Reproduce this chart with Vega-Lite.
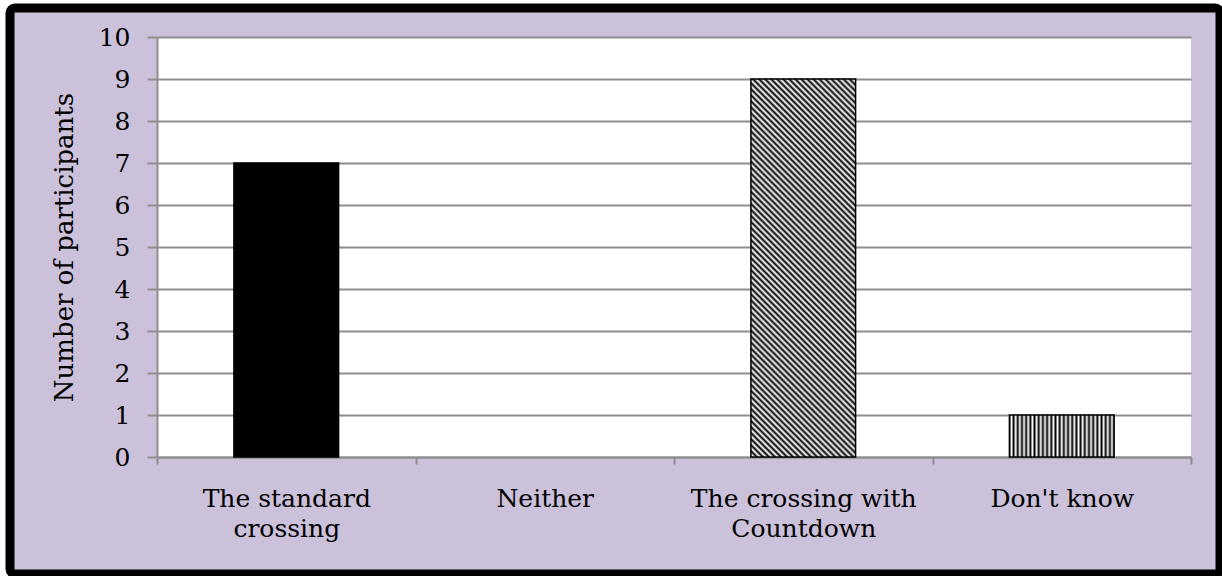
{
  "$schema": "https://vega.github.io/schema/vega-lite/v6.json",
  "width": 1210,
  "height": 566,
  "autosize": {"type": "none"},
  "padding": {"left": 10, "top": 8, "right": 2, "bottom": 2},
  "background": "white",
  "config": {
    "font": "DejaVu Serif",
    "view": {"fill": "#ccc1da", "stroke": "black", "strokeWidth": 9, "cornerRadius": 5}
  },
  "data": {"values": [
    {"response": "The standard crossing", "participants": 7},
    {"response": "Neither", "participants": 0},
    {"response": "The crossing with Countdown", "participants": 9},
    {"response": "Don't know", "participants": 1}
  ]},
  "resolve": {"axis": {"x": "independent"}},
  "encoding": {
    "y": {
      "field": "participants", "type": "quantitative", "title": "Number of participants",
      "scale": {"domain": [0, 10], "range": [449, 29], "nice": false, "zero": true},
      "axis": {
        "values": [0, 1, 2, 3, 4, 5, 6, 7, 8, 9, 10], "offset": -147,
        "grid": true, "gridColor": "#8e8e8e", "gridWidth": 2, "gridOpacity": 1,
        "domainColor": "#8e8e8e", "domainWidth": 2, "tickColor": "#8e8e8e", "tickWidth": 2, "tickSize": 10,
        "labelFontSize": 25, "labelColor": "black", "labelPadding": 17,
        "titleFontSize": 26, "titleFontWeight": "normal", "titleColor": "black", "titlePadding": 21
      }
    }
  },
  "layer": [
    {
      "mark": {"type": "bar", "opacity": 0},
      "encoding": {
        "x": {
          "field": "response", "type": "nominal", "sort": null, "title": null,
          "scale": {"domain": ["The standard crossing", "Neither", "The crossing with Countdown", "Don't know"], "range": [147, 1181], "paddingInner": 0, "paddingOuter": 0},
          "axis": {"orient": "top", "offset": 0, "grid": true, "gridColor": "white", "gridWidth": 259, "gridOpacity": 1, "bandPosition": 0.5, "domain": false, "ticks": false, "labels": false, "title": null}
        }
      }
    },
    {
      "transform": [{"filter": "datum.response == 'The standard crossing'"}],
      "mark": {"type": "bar", "width": {"band": 0.405}, "fill": "black", "stroke": "black", "strokeWidth": 1.5},
      "encoding": {
        "x": {
          "field": "response", "type": "nominal", "sort": null, "title": null,
          "scale": {"domain": ["The standard crossing", "Neither", "The crossing with Countdown", "Don't know"], "range": [147, 1181], "paddingInner": 0, "paddingOuter": 0},
          "axis": {
            "orient": "bottom", "offset": -117, "grid": false, "tickBand": "extent", "labelAngle": 0,
            "domainColor": "#8e8e8e", "domainWidth": 2, "tickColor": "#8e8e8e", "tickWidth": 2, "tickSize": 7,
            "labelFontSize": 25, "labelColor": "black", "labelPadding": 22, "labelLineHeight": 30, "labelLimit": 400, "labelBaseline": "top",
            "labelExpr": "datum.value == 'The standard crossing' ? ['The standard', 'crossing'] : datum.value == 'The crossing with Countdown' ? ['The crossing with', 'Countdown'] : datum.value"
          }
        }
      }
    },
    {
      "transform": [{"filter": "datum.response == 'The crossing with Countdown'"}],
      "mark": {
        "type": "bar", "width": {"band": 0.405}, "stroke": "black", "strokeWidth": 1.5,
        "fill": {"gradient": "linear", "x1": 0, "y1": 1, "x2": 0.3284, "y2": -0.1857, "stops": [
          {"offset": 0, "color": "#000"}, {"offset": 0.00625, "color": "#fff"}, {"offset": 0.0125, "color": "#000"}, {"offset": 0.01875, "color": "#fff"},
          {"offset": 0.025, "color": "#000"}, {"offset": 0.03125, "color": "#fff"}, {"offset": 0.0375, "color": "#000"}, {"offset": 0.04375, "color": "#fff"},
          {"offset": 0.05, "color": "#000"}, {"offset": 0.05625, "color": "#fff"}, {"offset": 0.0625, "color": "#000"}, {"offset": 0.06875, "color": "#fff"},
          {"offset": 0.075, "color": "#000"}, {"offset": 0.08125, "color": "#fff"}, {"offset": 0.0875, "color": "#000"}, {"offset": 0.09375, "color": "#fff"},
          {"offset": 0.1, "color": "#000"}, {"offset": 0.10625, "color": "#fff"}, {"offset": 0.1125, "color": "#000"}, {"offset": 0.11875, "color": "#fff"},
          {"offset": 0.125, "color": "#000"}, {"offset": 0.13125, "color": "#fff"}, {"offset": 0.1375, "color": "#000"}, {"offset": 0.14375, "color": "#fff"},
          {"offset": 0.15, "color": "#000"}, {"offset": 0.15625, "color": "#fff"}, {"offset": 0.1625, "color": "#000"}, {"offset": 0.16875, "color": "#fff"},
          {"offset": 0.175, "color": "#000"}, {"offset": 0.18125, "color": "#fff"}, {"offset": 0.1875, "color": "#000"}, {"offset": 0.19375, "color": "#fff"},
          {"offset": 0.2, "color": "#000"}, {"offset": 0.20625, "color": "#fff"}, {"offset": 0.2125, "color": "#000"}, {"offset": 0.21875, "color": "#fff"},
          {"offset": 0.225, "color": "#000"}, {"offset": 0.23125, "color": "#fff"}, {"offset": 0.2375, "color": "#000"}, {"offset": 0.24375, "color": "#fff"},
          {"offset": 0.25, "color": "#000"}, {"offset": 0.25625, "color": "#fff"}, {"offset": 0.2625, "color": "#000"}, {"offset": 0.26875, "color": "#fff"},
          {"offset": 0.275, "color": "#000"}, {"offset": 0.28125, "color": "#fff"}, {"offset": 0.2875, "color": "#000"}, {"offset": 0.29375, "color": "#fff"},
          {"offset": 0.3, "color": "#000"}, {"offset": 0.30625, "color": "#fff"}, {"offset": 0.3125, "color": "#000"}, {"offset": 0.31875, "color": "#fff"},
          {"offset": 0.325, "color": "#000"}, {"offset": 0.33125, "color": "#fff"}, {"offset": 0.3375, "color": "#000"}, {"offset": 0.34375, "color": "#fff"},
          {"offset": 0.35, "color": "#000"}, {"offset": 0.35625, "color": "#fff"}, {"offset": 0.3625, "color": "#000"}, {"offset": 0.36875, "color": "#fff"},
          {"offset": 0.375, "color": "#000"}, {"offset": 0.38125, "color": "#fff"}, {"offset": 0.3875, "color": "#000"}, {"offset": 0.39375, "color": "#fff"},
          {"offset": 0.4, "color": "#000"}, {"offset": 0.40625, "color": "#fff"}, {"offset": 0.4125, "color": "#000"}, {"offset": 0.41875, "color": "#fff"},
          {"offset": 0.425, "color": "#000"}, {"offset": 0.43125, "color": "#fff"}, {"offset": 0.4375, "color": "#000"}, {"offset": 0.44375, "color": "#fff"},
          {"offset": 0.45, "color": "#000"}, {"offset": 0.45625, "color": "#fff"}, {"offset": 0.4625, "color": "#000"}, {"offset": 0.46875, "color": "#fff"},
          {"offset": 0.475, "color": "#000"}, {"offset": 0.48125, "color": "#fff"}, {"offset": 0.4875, "color": "#000"}, {"offset": 0.49375, "color": "#fff"},
          {"offset": 0.5, "color": "#000"}, {"offset": 0.50625, "color": "#fff"}, {"offset": 0.5125, "color": "#000"}, {"offset": 0.51875, "color": "#fff"},
          {"offset": 0.525, "color": "#000"}, {"offset": 0.53125, "color": "#fff"}, {"offset": 0.5375, "color": "#000"}, {"offset": 0.54375, "color": "#fff"},
          {"offset": 0.55, "color": "#000"}, {"offset": 0.55625, "color": "#fff"}, {"offset": 0.5625, "color": "#000"}, {"offset": 0.56875, "color": "#fff"},
          {"offset": 0.575, "color": "#000"}, {"offset": 0.58125, "color": "#fff"}, {"offset": 0.5875, "color": "#000"}, {"offset": 0.59375, "color": "#fff"},
          {"offset": 0.6, "color": "#000"}, {"offset": 0.60625, "color": "#fff"}, {"offset": 0.6125, "color": "#000"}, {"offset": 0.61875, "color": "#fff"},
          {"offset": 0.625, "color": "#000"}, {"offset": 0.63125, "color": "#fff"}, {"offset": 0.6375, "color": "#000"}, {"offset": 0.64375, "color": "#fff"},
          {"offset": 0.65, "color": "#000"}, {"offset": 0.65625, "color": "#fff"}, {"offset": 0.6625, "color": "#000"}, {"offset": 0.66875, "color": "#fff"},
          {"offset": 0.675, "color": "#000"}, {"offset": 0.68125, "color": "#fff"}, {"offset": 0.6875, "color": "#000"}, {"offset": 0.69375, "color": "#fff"},
          {"offset": 0.7, "color": "#000"}, {"offset": 0.70625, "color": "#fff"}, {"offset": 0.7125, "color": "#000"}, {"offset": 0.71875, "color": "#fff"},
          {"offset": 0.725, "color": "#000"}, {"offset": 0.73125, "color": "#fff"}, {"offset": 0.7375, "color": "#000"}, {"offset": 0.74375, "color": "#fff"},
          {"offset": 0.75, "color": "#000"}, {"offset": 0.75625, "color": "#fff"}, {"offset": 0.7625, "color": "#000"}, {"offset": 0.76875, "color": "#fff"},
          {"offset": 0.775, "color": "#000"}, {"offset": 0.78125, "color": "#fff"}, {"offset": 0.7875, "color": "#000"}, {"offset": 0.79375, "color": "#fff"},
          {"offset": 0.8, "color": "#000"}, {"offset": 0.80625, "color": "#fff"}, {"offset": 0.8125, "color": "#000"}, {"offset": 0.81875, "color": "#fff"},
          {"offset": 0.825, "color": "#000"}, {"offset": 0.83125, "color": "#fff"}, {"offset": 0.8375, "color": "#000"}, {"offset": 0.84375, "color": "#fff"},
          {"offset": 0.85, "color": "#000"}, {"offset": 0.85625, "color": "#fff"}, {"offset": 0.8625, "color": "#000"}, {"offset": 0.86875, "color": "#fff"},
          {"offset": 0.875, "color": "#000"}, {"offset": 0.88125, "color": "#fff"}, {"offset": 0.8875, "color": "#000"}, {"offset": 0.89375, "color": "#fff"},
          {"offset": 0.9, "color": "#000"}, {"offset": 0.90625, "color": "#fff"}, {"offset": 0.9125, "color": "#000"}, {"offset": 0.91875, "color": "#fff"},
          {"offset": 0.925, "color": "#000"}, {"offset": 0.93125, "color": "#fff"}, {"offset": 0.9375, "color": "#000"}, {"offset": 0.94375, "color": "#fff"},
          {"offset": 0.95, "color": "#000"}, {"offset": 0.95625, "color": "#fff"}, {"offset": 0.9625, "color": "#000"}, {"offset": 0.96875, "color": "#fff"},
          {"offset": 0.975, "color": "#000"}, {"offset": 0.98125, "color": "#fff"}, {"offset": 0.9875, "color": "#000"}, {"offset": 0.99375, "color": "#fff"},
          {"offset": 1, "color": "#000"}
        ]}
      },
      "encoding": {
        "x": {
          "field": "response", "type": "nominal", "sort": null, "title": null,
          "scale": {"domain": ["The standard crossing", "Neither", "The crossing with Countdown", "Don't know"], "range": [147, 1181], "paddingInner": 0, "paddingOuter": 0},
          "axis": null
        }
      }
    },
    {
      "transform": [{"filter": "datum.response == \"Don't know\""}],
      "mark": {
        "type": "bar", "width": {"band": 0.405}, "stroke": "black", "strokeWidth": 1.5,
        "fill": {"gradient": "linear", "x1": 0, "y1": 0, "x2": 1, "y2": 0, "stops": [
          {"offset": 0, "color": "#000"}, {"offset": 0.02, "color": "#fff"}, {"offset": 0.04, "color": "#000"}, {"offset": 0.06, "color": "#fff"},
          {"offset": 0.08, "color": "#000"}, {"offset": 0.1, "color": "#fff"}, {"offset": 0.12, "color": "#000"}, {"offset": 0.14, "color": "#fff"},
          {"offset": 0.16, "color": "#000"}, {"offset": 0.18, "color": "#fff"}, {"offset": 0.2, "color": "#000"}, {"offset": 0.22, "color": "#fff"},
          {"offset": 0.24, "color": "#000"}, {"offset": 0.26, "color": "#fff"}, {"offset": 0.28, "color": "#000"}, {"offset": 0.3, "color": "#fff"},
          {"offset": 0.32, "color": "#000"}, {"offset": 0.34, "color": "#fff"}, {"offset": 0.36, "color": "#000"}, {"offset": 0.38, "color": "#fff"},
          {"offset": 0.4, "color": "#000"}, {"offset": 0.42, "color": "#fff"}, {"offset": 0.44, "color": "#000"}, {"offset": 0.46, "color": "#fff"},
          {"offset": 0.48, "color": "#000"}, {"offset": 0.5, "color": "#fff"}, {"offset": 0.52, "color": "#000"}, {"offset": 0.54, "color": "#fff"},
          {"offset": 0.56, "color": "#000"}, {"offset": 0.58, "color": "#fff"}, {"offset": 0.6, "color": "#000"}, {"offset": 0.62, "color": "#fff"},
          {"offset": 0.64, "color": "#000"}, {"offset": 0.66, "color": "#fff"}, {"offset": 0.68, "color": "#000"}, {"offset": 0.7, "color": "#fff"},
          {"offset": 0.72, "color": "#000"}, {"offset": 0.74, "color": "#fff"}, {"offset": 0.76, "color": "#000"}, {"offset": 0.78, "color": "#fff"},
          {"offset": 0.8, "color": "#000"}, {"offset": 0.82, "color": "#fff"}, {"offset": 0.84, "color": "#000"}, {"offset": 0.86, "color": "#fff"},
          {"offset": 0.88, "color": "#000"}, {"offset": 0.9, "color": "#fff"}, {"offset": 0.92, "color": "#000"}, {"offset": 0.94, "color": "#fff"},
          {"offset": 0.96, "color": "#000"}, {"offset": 0.98, "color": "#fff"}, {"offset": 1, "color": "#000"}
        ]}
      },
      "encoding": {
        "x": {
          "field": "response", "type": "nominal", "sort": null, "title": null,
          "scale": {"domain": ["The standard crossing", "Neither", "The crossing with Countdown", "Don't know"], "range": [147, 1181], "paddingInner": 0, "paddingOuter": 0},
          "axis": null
        }
      }
    }
  ]
}
